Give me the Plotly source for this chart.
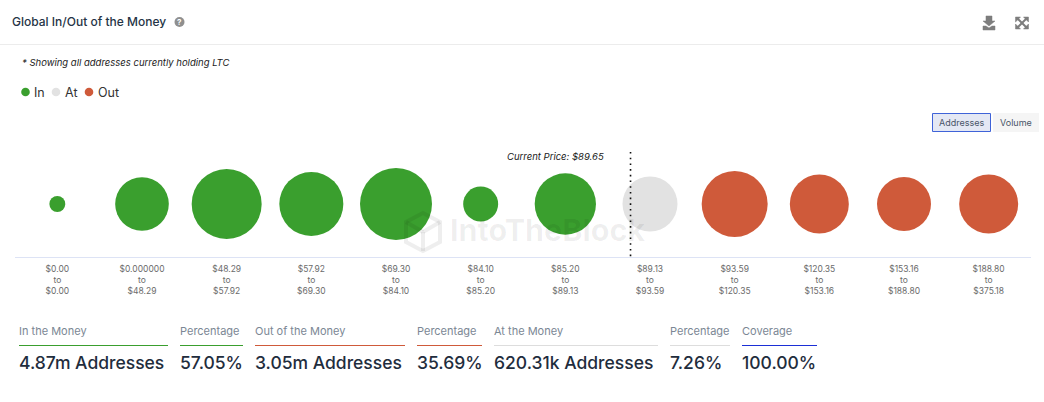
import plotly.graph_objects as go

W, H = 1044, 402
FONT = "Inter, 'Open Sans', sans-serif"

price_from = ["$0.00", "$0.000000", "$48.29", "$57.92", "$69.30", "$84.10", "$85.20", "$89.13", "$93.59", "$120.35", "$153.16", "$188.80"]
price_to = ["$0.00", "$48.29", "$57.92", "$69.30", "$84.10", "$85.20", "$89.13", "$93.59", "$120.35", "$153.16", "$188.80", "$375.18"]
categories = [f"{a}<br>to<br>{b}" for a, b in zip(price_from, price_to)]

# thousands of addresses
in_values = [52, 590, 1005, 840, 1063, 251, 770]
at_values = [620.31]
out_values = [893, 714, 598, 714]

stat_labels = ["In the Money", "Percentage", "Out of the Money", "Percentage", "At the Money", "Percentage", "Coverage"]
stat_values = ["4.87m Addresses", "57.05%", "3.05m Addresses", "35.69%", "620.31k Addresses", "7.26%", "100.00%"]
stat_colors = ["#3a9f2e", "#3a9f2e", "#cf5a3a", "#cf5a3a", "#dddddd", "#dddddd", "#1c2fd6"]
stat_x0 = [19, 180, 255, 417, 494, 670, 742]
stat_x1 = [168, 243, 405, 482, 658, 730, 817]

GREEN, GREY, RED = "#3a9f2e", "#e2e2e2", "#cf5a3a"
sizeref = 2 * 620.31 / 55 ** 2


def px(x):
    return x / W


def py(y):
    return 1 - y / H


fig = go.Figure()
start = 0
for name, vals, col in [("In", in_values, GREEN), ("At", at_values, GREY), ("Out", out_values, RED)]:
    cats = categories[start:start + len(vals)]
    start += len(vals)
    fig.add_trace(go.Scatter(
        x=cats, y=[0] * len(vals), mode="markers", name=name, showlegend=False,
        marker=dict(size=vals, sizemode="area", sizeref=sizeref, color=col, line=dict(width=0), opacity=1),
        hovertemplate="%{x}<br>%{marker.size}k<extra></extra>",
    ))

shapes = [
    dict(type="line", xref="paper", yref="paper", x0=0, x1=1, y0=py(44.5), y1=py(44.5), line=dict(color="#ececec", width=1)),
    dict(type="line", xref="x", yref="paper", x0=6.77, x1=6.77, y0=py(152), y1=py(257), line=dict(color="#111111", width=1.6, dash="1.6px,4.1px")),
    dict(type="rect", xref="paper", yref="paper", x0=px(932.5), x1=px(990.5), y0=py(113.5), y1=py(131.5), fillcolor="#e4e8f4", line=dict(color="#3f63d8", width=1)),
    dict(type="rect", xref="paper", yref="paper", x0=px(993), x1=px(1039), y0=py(113), y1=py(132), fillcolor="#f5f5f5", line=dict(width=0)),
    dict(type="circle", xref="paper", yref="paper", x0=px(174.5), x1=px(184.5), y0=py(17), y1=py(27), fillcolor="#8f8f8f", line=dict(width=0)),
]
for cx, col in [(25.5, GREEN), (56, GREY), (89, RED)]:
    shapes.append(dict(type="circle", xref="paper", yref="paper", x0=px(cx - 4.3), x1=px(cx + 4.3), y0=py(87.7), y1=py(96.3), fillcolor=col, line=dict(width=0)))


def path_shape(points, fill=None, color="#7d7d7d", width=1.6):
    d = "M" + " L".join(f"{px(a):.5f},{py(b):.5f}" for a, b in points)
    if fill:
        d += " Z"
    return dict(type="path", xref="paper", yref="paper", path=d, fillcolor=fill, line=dict(color=color, width=width))


# download icon
shapes.append(path_shape([(986, 16), (992, 16), (992, 21), (995, 21), (989, 26), (983, 21), (986, 21)], fill="#7d7d7d", width=0.5))
shapes.append(path_shape([(983, 26), (986, 26), (989, 28), (992, 26), (995, 26), (995, 30), (983, 30)], fill="#7d7d7d", width=0.5))
# expand icon
shapes.append(path_shape([(1017, 18), (1027, 28)], width=2))
shapes.append(path_shape([(1027, 18), (1017, 28)], width=2))
for cx, cy, sx, sy in [(1015.5, 17, 1, 1), (1028.5, 17, -1, 1), (1015.5, 29, 1, -1), (1028.5, 29, -1, -1)]:
    shapes.append(path_shape([(cx, cy), (cx + 5 * sx, cy), (cx, cy + 5 * sy)], fill="#7d7d7d", width=0.5))
# watermark hexagon
WM = "rgba(0,0,0,0.065)"
shapes.append(path_shape([(423, 213), (440, 222), (440, 242), (423, 251), (406, 242), (406, 222)], fill="rgba(0,0,0,0)", color=WM, width=4))
shapes.append(path_shape([(423, 232), (440, 222)], color=WM, width=4))
shapes.append(path_shape([(423, 232), (406, 222)], color=WM, width=4))
shapes.append(path_shape([(423, 232), (423, 251)], color=WM, width=4))


def text(x, y, s, size, color, anchor="left", weight=None, style=None):
    dx = {"left": -2, "right": 2, "center": 0}[anchor]
    return dict(xref="paper", yref="paper", x=px(x + dx), y=py(y), text=s, showarrow=False,
                xanchor=anchor, yanchor="middle",
                font=dict(family=FONT, size=size, color=color, weight=weight, style=style))


annotations = [
    text(12, 21.5, "Global In/Out of the Money", 12, "#253446", weight=500),
    text(179.5, 22, "?", 8, "#ffffff", anchor="center", weight=700),
    text(22, 62.5, "* Showing all addresses currently holding LTC", 9.5, "#1a1a1a", style="italic"),
    text(604, 156.5, "Current Price: $89.65", 9.5, "#1a1a1a", anchor="right", style="italic"),
    text(961.5, 122.5, "Addresses", 9, "#4a5568", anchor="center"),
    text(1016, 122.5, "Volume", 9, "#4a5568", anchor="center"),
    text(450, 230, "IntoTheBlock", 30.5, WM, weight=700),
    text(33.5, 92, "In", 12.5, "#333333"),
    text(64.5, 92, "At", 12.5, "#333333"),
    text(97.5, 92, "Out", 12.5, "#333333"),
]
for lab, val, col, x0, x1 in zip(stat_labels, stat_values, stat_colors, stat_x0, stat_x1):
    annotations.append(text(x0, 331, lab, 11, "#7b8794"))
    annotations.append(text(x0, 362.5, val, 17.5, "#1f2d3d", weight=500))
    shapes.append(dict(type="line", xref="paper", yref="paper", x0=px(x0), x1=px(x1), y0=py(345.5), y1=py(345.5), line=dict(color=col, width=1)))

fig.update_layout(
    width=W, height=H, autosize=False,
    margin=dict(l=0, r=0, t=0, b=0),
    paper_bgcolor="white", plot_bgcolor="white",
    font=dict(family=FONT),
    showlegend=False,
    xaxis=dict(domain=[px(15), px(1031)], type="category", categoryorder="array", categoryarray=categories,
               range=[-0.5, 11.5], showgrid=False, zeroline=False, showline=True, linecolor="#dde3f5", linewidth=1,
               ticks="", ticklabelstandoff=4, tickfont=dict(family=FONT, size=8.5, color="#6b6b6b"), automargin=False, fixedrange=True),
    yaxis=dict(domain=[py(257), py(151)], range=[-1, 1], visible=False, fixedrange=True),
    shapes=shapes, annotations=annotations,
)

fig.write_html("out.html", config=dict(displayModeBar=False),
               post_script="document.body.style.margin='0';document.body.style.overflow='hidden';")
